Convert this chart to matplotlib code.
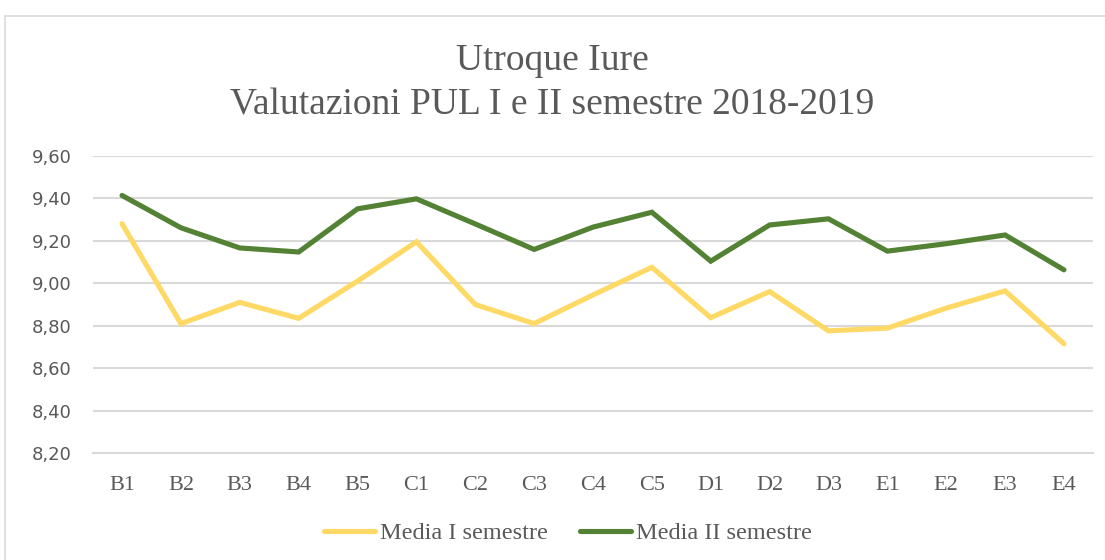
import matplotlib
matplotlib.use('Agg')
import matplotlib.pyplot as plt
from matplotlib.patches import Rectangle
from matplotlib.ticker import FuncFormatter

# ── Data ────────────────────────────────────────────────────────────────────
CATEGORIES = ['B1', 'B2', 'B3', 'B4', 'B5', 'C1', 'C2', 'C3', 'C4', 'C5',
              'D1', 'D2', 'D3', 'E1', 'E2', 'E3', 'E4']
MEDIA_I = [9.28, 8.81, 8.91, 8.835, 9.01, 9.195, 8.90, 8.81, 8.945, 9.075,
           8.838, 8.961, 8.776, 8.789, 8.883, 8.964, 8.715]
MEDIA_II = [9.413, 9.261, 9.166, 9.147, 9.35, 9.397, 9.279, 9.159, 9.264, 9.334,
            9.104, 9.274, 9.303, 9.151, 9.186, 9.227, 9.063]
Y_TICKS = [8.20, 8.40, 8.60, 8.80, 9.00, 9.20, 9.40, 9.60]

TITLE = 'Utroque Iure\nValutazioni PUL I e II semestre 2018-2019'
LABEL_I = 'Media I semestre'
LABEL_II = 'Media II semestre'

YELLOW = '#FFD966'
GREEN = '#548235'
GRID = '#D9D9D9'
TEXT = '#595959'

W, H = 1105, 560
fig = plt.figure(figsize=(W / 100, H / 100), dpi=100)

# outer chart border (right and bottom edges run off the picture)
fig.patches.append(Rectangle((5 / W, -0.1), 1.2, 1.1 - 16 / H,
                             transform=fig.transFigure, fill=False,
                             edgecolor=GRID, linewidth=1.2))

left, right = 92.6 / W, 1093.4 / W
bottom, top = 1 - 453.3 / H, 1 - 155.7 / H
ax = fig.add_axes([left, bottom, right - left, top - bottom])

x = list(range(len(CATEGORIES)))
ax.plot(x, MEDIA_I, color=YELLOW, lw=3.7, solid_capstyle='round',
        solid_joinstyle='miter', label=LABEL_I, zorder=3)
ax.plot(x, MEDIA_II, color=GREEN, lw=3.7, solid_capstyle='round',
        solid_joinstyle='miter', label=LABEL_II, zorder=3)

ax.set_xlim(-0.5, len(CATEGORIES) - 0.5)
ax.set_ylim(Y_TICKS[0], Y_TICKS[-1])
ax.set_yticks(Y_TICKS)
ax.yaxis.set_major_formatter(FuncFormatter(lambda v, _: f'{v:.2f}'.replace('.', ',')))
ax.set_xticks(x)
ax.set_xticklabels(CATEGORIES, family='Liberation Serif', fontsize=16, color=TEXT)
for lbl in ax.get_yticklabels():
    lbl.set_family('DejaVu Sans')
    lbl.set_fontsize(13)
    lbl.set_color(TEXT)

ax.grid(axis='y', color=GRID, linewidth=1.5, zorder=0)
ax.tick_params(length=0)
ax.tick_params(axis='y', pad=15)
ax.tick_params(axis='x', pad=16)
for side in ['top', 'right', 'left']:
    ax.spines[side].set_visible(False)
ax.spines['bottom'].set_color(GRID)
ax.spines['bottom'].set_linewidth(1.5)
ax.set_facecolor('none')

fig.text(0.5, 1 - 83 / H, TITLE, ha='center', va='center', family='Liberation Serif',
         fontsize=27, color=TEXT, linespacing=1.4)

fig.legend(loc='center', bbox_to_anchor=(568 / W, 1 - 533 / H), ncol=2, frameon=False,
           prop={'family': 'Liberation Serif', 'size': 17.5}, labelcolor=TEXT,
           handlelength=2.1, handletextpad=0.2, columnspacing=1.35)

fig.savefig('out.png', dpi=100)
